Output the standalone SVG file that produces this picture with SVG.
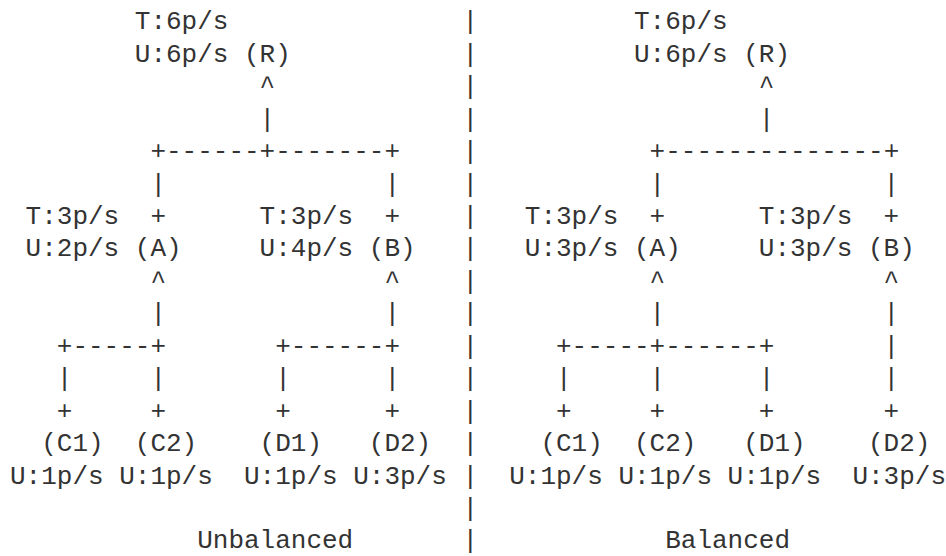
<svg xmlns="http://www.w3.org/2000/svg" width="946" height="556" viewBox="0 0 946 556">
<style>
text{font-family:"Liberation Mono","DejaVu Sans Mono",monospace;font-size:26px;fill:#333333;}
</style>
<rect width="946" height="556" fill="#ffffff"/>
<!-- separator -->
<g id="separator">
<text x="462.4" y="29.3">|</text><text x="462.4" y="61.7">|</text><text x="462.4" y="94.2">|</text>
<text x="462.4" y="126.6">|</text><text x="462.4" y="159.1">|</text><text x="462.4" y="191.5">|</text>
<text x="462.4" y="223.9">|</text><text x="462.4" y="256.4">|</text><text x="462.4" y="288.8">|</text>
<text x="462.4" y="321.3">|</text><text x="462.4" y="353.7">|</text><text x="462.4" y="386.1">|</text>
<text x="462.4" y="418.6">|</text><text x="462.4" y="451.0">|</text><text x="462.4" y="483.5">|</text>
<text x="462.4" y="515.9">|</text><text x="462.4" y="548.3">|</text>
</g>
<!-- left: unbalanced -->
<g id="L-R"><text x="134.8" y="29.3">T:6p/s</text><text x="134.8" y="61.7">U:6p/s (R)</text></g>
<g id="L-A"><text x="25.6" y="223.9">T:3p/s</text><text x="25.6" y="256.4">U:2p/s (A)</text></g>
<g id="L-B"><text x="259.6" y="223.9">T:3p/s</text><text x="259.6" y="256.4">U:4p/s (B)</text></g>
<g id="L-C1"><text x="41.2" y="451.0">(C1)</text><text x="10" y="483.5">U:1p/s</text></g>
<g id="L-C2"><text x="134.8" y="451.0">(C2)</text><text x="119.2" y="483.5">U:1p/s</text></g>
<g id="L-D1"><text x="259.6" y="451.0">(D1)</text><text x="244" y="483.5">U:1p/s</text></g>
<g id="L-D2"><text x="368.8" y="451.0">(D2)</text><text x="353.2" y="483.5">U:3p/s</text></g>
<g id="L-connectors">
<text x="259.6" y="94.2">^</text><text x="259.6" y="126.6">|</text>
<text x="150.4" y="159.1">+------+-------+</text>
<text x="150.4" y="191.5">|</text><text x="384.4" y="191.5">|</text>
<text x="150.4" y="223.9">+</text><text x="384.4" y="223.9">+</text>
<text x="150.4" y="288.8">^</text><text x="384.4" y="288.8">^</text>
<text x="150.4" y="321.3">|</text><text x="384.4" y="321.3">|</text>
<text x="56.8" y="353.7">+-----+</text><text x="275.2" y="353.7">+------+</text>
<text x="56.8" y="386.1">|</text><text x="150.4" y="386.1">|</text><text x="275.2" y="386.1">|</text><text x="384.4" y="386.1">|</text>
<text x="56.8" y="418.6">+</text><text x="150.4" y="418.6">+</text><text x="275.2" y="418.6">+</text><text x="384.4" y="418.6">+</text>
</g>
<text x="197.2" y="548.3">Unbalanced</text>
<!-- right: balanced -->
<g id="R-R"><text x="634" y="29.3">T:6p/s</text><text x="634" y="61.7">U:6p/s (R)</text></g>
<g id="R-A"><text x="524.8" y="223.9">T:3p/s</text><text x="524.8" y="256.4">U:3p/s (A)</text></g>
<g id="R-B"><text x="758.8" y="223.9">T:3p/s</text><text x="758.8" y="256.4">U:3p/s (B)</text></g>
<g id="R-C1"><text x="540.4" y="451.0">(C1)</text><text x="509.2" y="483.5">U:1p/s</text></g>
<g id="R-C2"><text x="634" y="451.0">(C2)</text><text x="618.4" y="483.5">U:1p/s</text></g>
<g id="R-D1"><text x="743.2" y="451.0">(D1)</text><text x="727.6" y="483.5">U:1p/s</text></g>
<g id="R-D2"><text x="868" y="451.0">(D2)</text><text x="852.4" y="483.5">U:3p/s</text></g>
<g id="R-connectors">
<text x="758.8" y="94.2">^</text><text x="758.8" y="126.6">|</text>
<text x="649.6" y="159.1">+--------------+</text>
<text x="649.6" y="191.5">|</text><text x="883.6" y="191.5">|</text>
<text x="649.6" y="223.9">+</text><text x="883.6" y="223.9">+</text>
<text x="649.6" y="288.8">^</text><text x="883.6" y="288.8">^</text>
<text x="649.6" y="321.3">|</text><text x="883.6" y="321.3">|</text>
<text x="556" y="353.7">+-----+------+</text><text x="883.6" y="353.7">|</text>
<text x="556" y="386.1">|</text><text x="649.6" y="386.1">|</text><text x="758.8" y="386.1">|</text><text x="883.6" y="386.1">|</text>
<text x="556" y="418.6">+</text><text x="649.6" y="418.6">+</text><text x="758.8" y="418.6">+</text><text x="883.6" y="418.6">+</text>
</g>
<text x="665.2" y="548.3">Balanced</text>
</svg>
